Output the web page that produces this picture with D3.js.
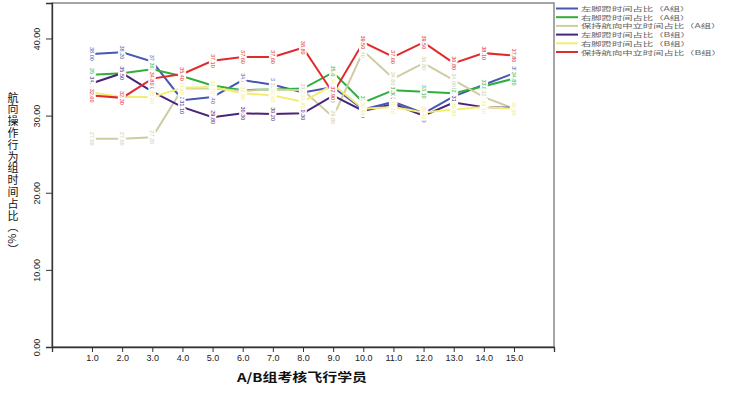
<!DOCTYPE html>
<html>
<head>
<meta charset="utf-8">
<script src="https://cdn.jsdelivr.net/npm/d3@7"></script>
<style>
  body { margin: 0; background: #fff; }
  text { font-family: "Liberation Sans", Arial, sans-serif; }
  .cjk { font-family: "Noto Sans CJK SC", sans-serif; }
</style>
</head>
<body>
<div id="chart"></div>
<script>
// flight students 1..15
var students = [1, 2, 3, 4, 5, 6, 7, 8, 9, 10, 11, 12, 13, 14, 15];
var yTicks = [0, 10, 20, 30, 40];

var seriesNames = [
  "左脚蹬时间占比（A组）",
  "右脚蹬时间占比（A组）",
  "保持航向中立时间占比（A组）",
  "左脚蹬时间占比（B组）",
  "右脚蹬时间占比（B组）",
  "保持航向中立时间占比（B组）"
];
var seriesColors = ["#4556b5", "#2fae3c", "#cfcca2", "#4a2479", "#f3ee72", "#e12a2c"];

var leftA    = [38.0, 38.2, 37.0, 32.0, 32.4, 34.6, 34.0, 33.0, 33.7, 30.8, 31.8, 30.3, 32.5, 34.0, 35.5];
var rightA   = [35.3, 35.5, 36.0, 35.1, 33.9, 33.3, 33.4, 33.5, 35.6, 31.7, 33.3, 33.1, 32.9, 33.8, 34.8];
var neutralA = [27.0, 27.0, 27.2, 33.5, 33.5, 33.2, 33.4, 33.3, 29.8, 38.4, 34.8, 36.8, 34.6, 32.4, 30.9];
var leftB    = [34.2, 35.5, 33.1, 31.1, 29.8, 30.3, 30.2, 30.3, 32.6, 30.6, 31.5, 30.0, 31.7, 31.1, 31.0];
var rightB   = [33.0, 32.4, 32.4, 33.6, 33.7, 32.9, 32.6, 31.8, 34.0, 30.9, 31.1, 30.4, 30.8, 31.1, 30.9];
var neutralB = [32.6, 32.3, 34.8, 35.4, 37.1, 37.6, 37.6, 38.8, 32.9, 39.5, 37.6, 39.5, 36.8, 38.1, 37.8];

var allSeries = [leftA, rightA, neutralA, leftB, rightB, neutralB];

var width = 741, height = 394;
var plot = { left: 52, right: 554, top: 3, bottom: 347 };

var svg = d3.select("#chart").append("svg")
  .attr("width", width)
  .attr("height", height);

var x = d3.scaleLinear()
  .domain([1 - 1.327, 15 + 1.327])
  .range([plot.left, plot.right]);

var y = d3.scaleLinear()
  .domain([0, 44.6])
  .range([plot.bottom, plot.top]);

// frame
svg.append("rect")
  .attr("x", plot.left).attr("y", plot.top)
  .attr("width", plot.right - plot.left)
  .attr("height", plot.bottom - plot.top)
  .attr("fill", "none")
  .attr("stroke", "#777")
  .attr("stroke-width", 1.3);

// y axis
var yAxis = svg.append("g")
  .attr("transform", "translate(" + plot.left + ",0)")
  .call(d3.axisLeft(y).tickValues(yTicks).tickSize(6).tickFormat(d3.format(".2f")));
yAxis.select(".domain").attr("stroke", "#333").attr("stroke-width", 1.3);
yAxis.selectAll(".tick line").attr("stroke", "#333");
yAxis.selectAll(".tick text")
  .attr("x", null).attr("dy", null)
  .attr("transform", "translate(-12,0) rotate(-90)")
  .attr("text-anchor", "middle")
  .attr("font-size", 9)
  .attr("fill", "#222");

// x axis
var xAxis = svg.append("g")
  .attr("transform", "translate(0," + plot.bottom + ")")
  .call(d3.axisBottom(x).tickValues(students).tickSize(5).tickFormat(d3.format(".1f")));
xAxis.select(".domain").attr("stroke", "#333").attr("stroke-width", 1.3);
xAxis.selectAll(".tick line").attr("stroke", "#333");
xAxis.selectAll(".tick text")
  .attr("y", 8)
  .attr("font-size", 9)
  .attr("fill", "#222");

// x title
svg.append("text")
  .attr("class", "cjk")
  .attr("x", 302).attr("y", 382)
  .attr("text-anchor", "middle")
  .attr("font-size", 12)
  .attr("font-weight", "bold")
  .attr("fill", "#111")
  .attr("textLength", 130)
  .attr("lengthAdjust", "spacingAndGlyphs")
  .text("A/B组考核飞行学员");

// y title, vertical writing
svg.append("text")
  .attr("class", "cjk")
  .attr("x", 13).attr("y", 92)
  .style("writing-mode", "vertical-rl")
  .style("letter-spacing", "0.8px")
  .attr("font-size", 11)
  .attr("fill", "#111")
  .text("航向操作行为组时间占比（%）");

// lines
var line = d3.line()
  .x(function (d, i) { return x(students[i]); })
  .y(function (d) { return y(d); });

var lines = svg.append("g");
allSeries.forEach(function (s, k) {
  lines.append("path")
    .datum(s)
    .attr("d", line)
    .attr("fill", "none")
    .attr("stroke", seriesColors[k])
    .attr("stroke-width", 2);
});

// point value labels (white halo makes the gap in the line)
var labels = svg.append("g");
allSeries.forEach(function (s, k) {
  labels.selectAll("text.s" + k)
    .data(s)
    .enter()
    .append("text")
      .attr("class", "s" + k)
      .attr("transform", function (d, i) {
        return "translate(" + x(students[i]) + "," + y(d) + ") rotate(90)";
      })
      .attr("text-anchor", "middle")
      .attr("dominant-baseline", "central")
      .attr("font-size", 5.5)
      .attr("fill", seriesColors[k])
      .attr("stroke", "#fff")
      .attr("stroke-width", 3.5)
      .attr("paint-order", "stroke")
      .text(function (d) { return d.toFixed(2); });
});

// legend outside the frame
var legend = svg.append("g");
seriesNames.forEach(function (name, k) {
  var ly = 8.5 + k * 8.7;
  legend.append("line")
    .attr("x1", 556).attr("x2", 578)
    .attr("y1", ly).attr("y2", ly)
    .attr("stroke", seriesColors[k])
    .attr("stroke-width", 2);
  var t = legend.append("text")
    .attr("class", "cjk")
    .attr("x", 581).attr("y", ly)
    .attr("dominant-baseline", "central")
    .attr("font-size", 5.9)
    .attr("fill", "#666")
    .text(name);
  var w = t.node().getComputedTextLength();
  t.attr("textLength", w * 1.75).attr("lengthAdjust", "spacingAndGlyphs");
});
</script>
</body>
</html>
